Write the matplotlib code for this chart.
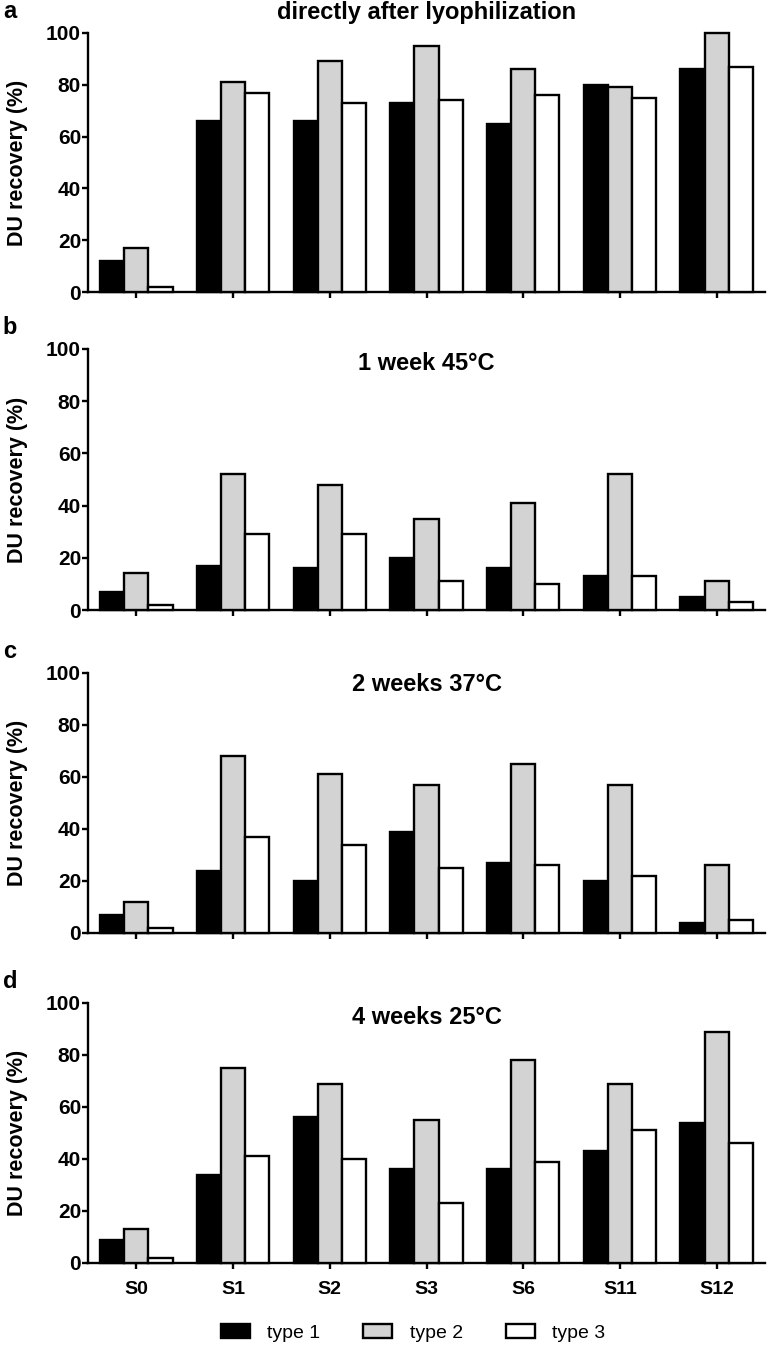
import numpy as np
import matplotlib.pyplot as plt
from matplotlib.patches import Patch

plt.rcParams['font.family'] = ['Liberation Sans', 'DejaVu Sans']

samples = ['S0', 'S1', 'S2', 'S3', 'S6', 'S11', 'S12']
types = ['type 1', 'type 2', 'type 3']
colors = ['#000000', '#d3d3d3', '#ffffff']

titles = ['directly after lyophilization', '1 week 45\u00b0C',
          '2 weeks 37\u00b0C', '4 weeks 25\u00b0C']
panel_labels = ['a', 'b', 'c', 'd']

# DU recovery (%) per panel, rows = type 1, type 2, type 3
after_lyo = [[12, 66, 66, 73, 65, 80, 86],
             [17, 81, 89, 95, 86, 79, 100],
             [2, 77, 73, 74, 76, 75, 87]]
week1_45 = [[7, 17, 16, 20, 16, 13, 5],
            [14, 52, 48, 35, 41, 52, 11],
            [2, 29, 29, 11, 10, 13, 3]]
weeks2_37 = [[7, 24, 20, 39, 27, 20, 4],
             [12, 68, 61, 57, 65, 57, 26],
             [2, 37, 34, 25, 26, 22, 5]]
weeks4_25 = [[9, 34, 56, 36, 36, 43, 54],
             [13, 75, 69, 55, 78, 69, 89],
             [2, 41, 40, 23, 39, 51, 46]]
panels = [after_lyo, week1_45, weeks2_37, weeks4_25]

W, H = 773, 1348
fig = plt.figure(figsize=(W / 100, H / 100), dpi=100)

# (y pixel of 0, y pixel of 100) for each panel
rows = [(292, 33), (610, 349), (933, 673), (1263, 1003)]
title_y = [1.081, 0.946, 0.954, 0.946]
x_left, x_right = 88, 765

x = np.arange(len(samples))
bw = 0.25

for i, (data, (y0, y1)) in enumerate(zip(panels, rows)):
    ax = fig.add_axes([x_left / W, 1 - y0 / H, (x_right - x_left) / W, (y0 - y1) / H])
    for j in range(3):
        ax.bar(x + (j - 1) * bw, data[j], width=bw, color=colors[j],
               edgecolor='black', linewidth=1.7, clip_on=False, zorder=3)
    ax.set_xlim(-0.5, 6.5)
    ax.set_ylim(0, 100)
    ax.set_yticks([0, 20, 40, 60, 80, 100])
    ax.set_xticks(x)
    for s in ['top', 'right']:
        ax.spines[s].set_visible(False)
    for s in ['left', 'bottom']:
        ax.spines[s].set_linewidth(1.7)
    ax.tick_params(axis='both', length=4, width=1.7, direction='out')
    ax.tick_params(axis='y', labelsize=15, pad=1)
    for t in ax.get_yticklabels():
        t.set_fontweight('bold')
    if i == 3:
        ax.set_xticklabels(samples, fontsize=14, fontweight='bold')
        ax.tick_params(axis='x', pad=9)
    else:
        ax.set_xticklabels([])
    ax.set_ylabel('DU recovery (%)', fontsize=15.5, fontweight='bold')
    ax.yaxis.set_label_coords(-0.089, 0.5)
    ax.text(0.5, title_y[i], titles[i], transform=ax.transAxes, ha='center',
            va='center', fontsize=17, fontweight='bold')
    fig.text(10 / W, 1 - (y1 - 21) / H, panel_labels[i], fontsize=17,
             fontweight='bold', ha='center', va='center')

handles = [Patch(facecolor=c, edgecolor='black', linewidth=1.7) for c in colors]
fig.legend(handles, types, loc='center', bbox_to_anchor=(413 / W, 1 - 1333 / H),
           ncol=3, frameon=False, fontsize=14, handlelength=1.5, handleheight=0.75,
           columnspacing=2.2, handletextpad=0.9)

plt.savefig('out.png', dpi=100)
